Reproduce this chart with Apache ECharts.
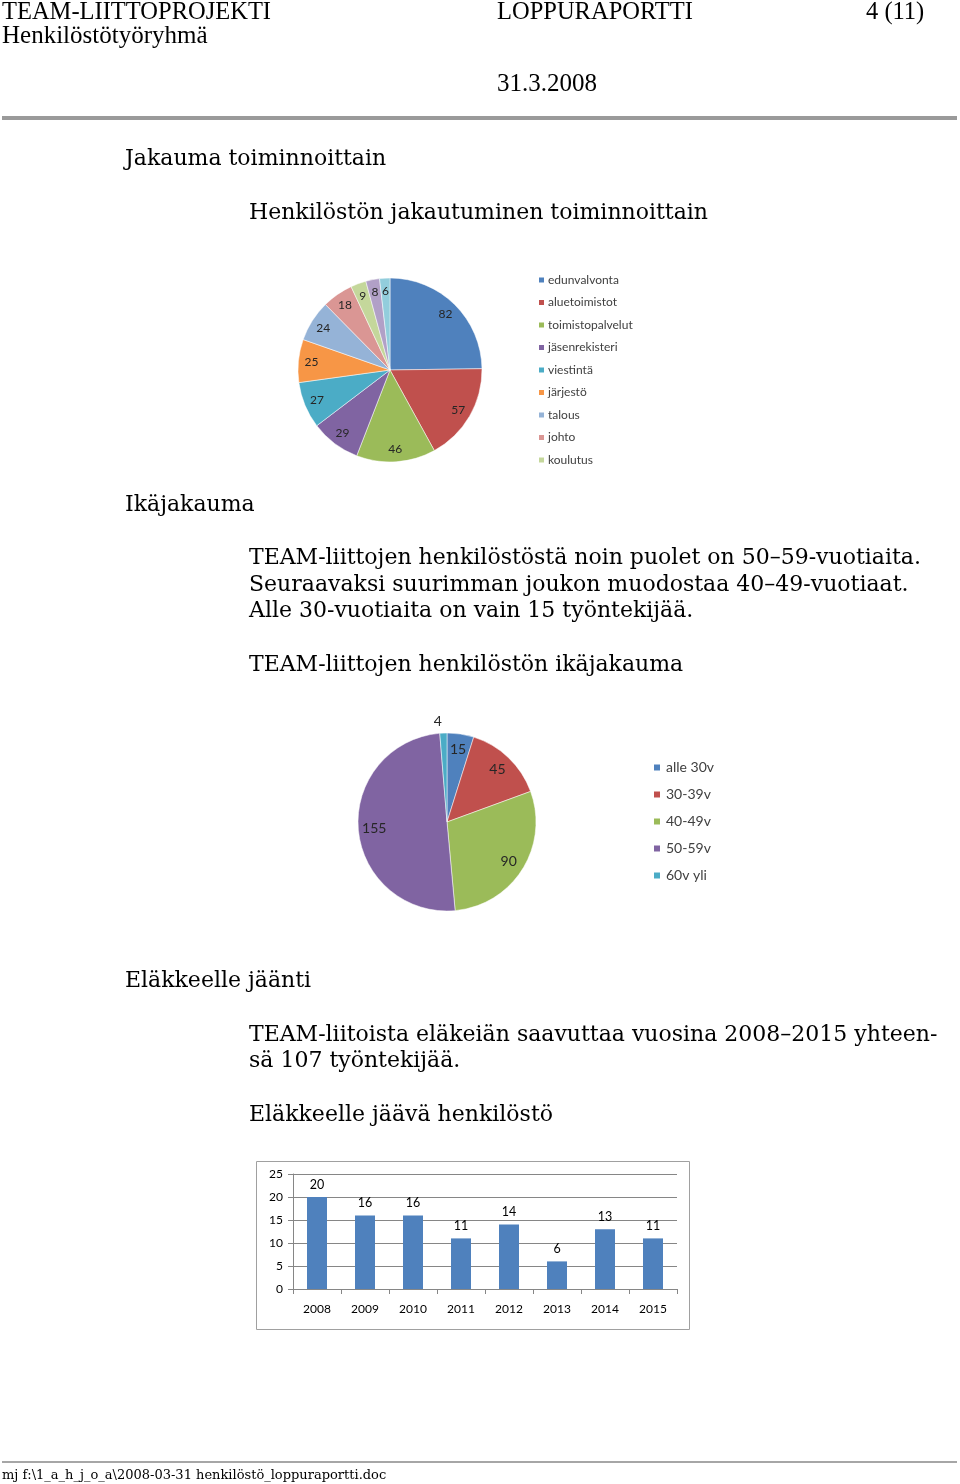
<!DOCTYPE html>
<html>
<head>
<meta charset="utf-8">
<script src="https://cdn.jsdelivr.net/npm/echarts@6/dist/echarts.min.js"></script>
<style>
  html, body { margin: 0; padding: 0; background: #fff; }
  #page { width: 960px; height: 1484px; }
</style>
</head>
<body>
<div id="page"></div>
<script>
// toiminnot (pie 1) - last two slices have no legend entry in the source
const unitNames = ["edunvalvonta", "aluetoimistot", "toimistopalvelut", "jäsenrekisteri", "viestintä", "järjestö", "talous", "johto", "koulutus", "muut 1", "muut 2"];
const unitValues = [82, 57, 46, 29, 27, 25, 24, 18, 9, 8, 6];
const unitLegend = unitNames.slice(0, 9);

// ikäjakauma (pie 2)
const ageNames = ["alle 30v", "30-39v", "40-49v", "50-59v", "60v yli"];
const ageValues = [15, 45, 90, 155, 4];

// eläkkeelle jäävät (bar)
const years = ["2008", "2009", "2010", "2011", "2012", "2013", "2014", "2015"];
const retiring = [20, 16, 16, 11, 14, 6, 13, 11];
const yTicks = [0, 5, 10, 15, 20, 25];

const palette = ["#4F81BD", "#C0504D", "#9BBB59", "#8064A2", "#4BACC6", "#F79646",
  "#95B3D7", "#DA9694", "#C4D79B", "#B1A0C7", "#92CDDC"];

const chartFont = "Lato";
const bodyFont = "DejaVu Serif";
const headFont = "Liberation Serif";

function txt(text, x, y, size, family) {
  return {
    type: "text", x: x, y: y, silent: true,
    style: { text: text, fontSize: size, fontFamily: family, fill: "#000", verticalAlign: "middle" }
  };
}

const pieData = (names, values) =>
  names.map((n, i) => ({ name: n, value: values[i], itemStyle: { color: palette[i] } }));

const myChart = echarts.init(document.getElementById("page"), null, { renderer: "canvas" });

const option = {
  animation: false,
  textStyle: { fontFamily: chartFont },
  legend: [
    {
      data: unitLegend,
      orient: "vertical",
      left: 537, top: 273, padding: 0,
      icon: "rect", itemWidth: 7, itemHeight: 7, itemGap: 8.5,
      textStyle: { fontSize: 12, color: "#404040", lineHeight: 14, padding: [0, 0, 0, -2] },
      selectedMode: false
    },
    {
      data: ageNames,
      orient: "vertical",
      left: 652, top: 759, padding: 0,
      icon: "rect", itemWidth: 8, itemHeight: 8, itemGap: 10,
      textStyle: { fontSize: 14, color: "#404040", lineHeight: 17 },
      selectedMode: false
    }
  ],
  grid: { left: 293, right: 283, top: 1174, bottom: 195 },
  xAxis: {
    type: "category",
    data: years,
    axisLine: { lineStyle: { color: "#868686" } },
    axisTick: { show: true, length: 5, lineStyle: { color: "#868686" } },
    axisLabel: { color: "#000", fontSize: 12, margin: 14 }
  },
  yAxis: {
    type: "value",
    min: 0, max: 25, interval: 5,
    axisLine: { show: true, lineStyle: { color: "#868686" } },
    axisTick: { show: true, inside: false, length: 5, lineStyle: { color: "#868686" } },
    axisLabel: { color: "#000", fontSize: 12, margin: 10,
      formatter: (v) => yTicks.includes(v) ? String(v) : "" },
    splitLine: { lineStyle: { color: "#868686" } }
  },
  series: [
    {
      type: "pie", name: "toiminnot",
      center: [390, 370], radius: [0, 92],
      startAngle: 90, clockwise: true, silent: true,
      label: { show: false }, labelLine: { show: false },
      itemStyle: { borderColor: "#fff", borderWidth: 0.5 },
      data: pieData(unitNames, unitValues)
    },
    {
      // label ring for pie 1
      type: "pie", name: "toiminnot-labels",
      center: [390, 370], radius: [60, 92],
      startAngle: 90, clockwise: true, silent: true,
      itemStyle: { color: "rgba(0,0,0,0)" },
      label: { show: true, position: "inside", formatter: "{c}", fontSize: 12, color: "#262626" },
      data: unitNames.map((n, i) => ({ name: n, value: unitValues[i] })),
      labelLine: { show: false }
    },
    {
      type: "pie", name: "ikä",
      center: [447, 822], radius: [0, 89],
      startAngle: 90, clockwise: true, silent: true,
      label: { show: false }, labelLine: { show: false },
      itemStyle: { borderColor: "#fff", borderWidth: 0.5 },
      data: pieData(ageNames, ageValues)
    },
    {
      type: "pie", name: "ikä-labels",
      center: [447, 822], radius: [51, 89],
      startAngle: 90, clockwise: true, silent: true,
      itemStyle: { color: "rgba(0,0,0,0)" },
      label: { show: true, position: "inside", formatter: "{c}", fontSize: 14, color: "#262626" },
      labelLine: { show: false, length: 12, length2: 0 },
      labelLayout: (p) => (ageValues[p.dataIndex] < 10 ? { align: "center" } : {}),
      data: ageNames.map((n, i) => ({
        name: n, value: ageValues[i],
        label: ageValues[i] < 10 ? { position: "outside" } : undefined
      }))
    },
    {
      type: "bar", name: "eläkkeelle",
      data: retiring,
      barWidth: 20,
      itemStyle: { color: "#4F81BD" },
      label: { show: true, position: "top", distance: 6, fontSize: 12.5, color: "#000" },
      silent: true
    }
  ],
  graphic: [
    txt("TEAM-LIITTOPROJEKTI", 2, 13, 24.5, headFont),
    txt("LOPPURAPORTTI", 497, 13, 24.5, headFont),
    txt("4 (11)", 866, 13, 24.5, headFont),
    txt("Henkilöstötyöryhmä", 2, 36, 25, headFont),
    txt("31.3.2008", 497, 84, 25, headFont),
    { type: "rect", silent: true, shape: { x: 2, y: 116, width: 955, height: 4 }, style: { fill: "#9a9a9a" } },

    txt("Jakauma toiminnoittain", 125, 159, 22, bodyFont),
    txt("Henkilöstön jakautuminen toiminnoittain", 249, 213, 22, bodyFont),
    txt("Ikäjakauma", 125, 505, 22, bodyFont),
    txt("TEAM-liittojen henkilöstöstä noin puolet on 50–59-vuotiaita.", 249, 558, 22, bodyFont),
    txt("Seuraavaksi suurimman joukon muodostaa 40–49-vuotiaat.", 249, 585, 22, bodyFont),
    txt("Alle 30-vuotiaita on vain 15 työntekijää.", 249, 611, 22, bodyFont),
    txt("TEAM-liittojen henkilöstön ikäjakauma", 249, 665, 22, bodyFont),
    txt("Eläkkeelle jäänti", 125, 981, 22, bodyFont),
    txt("TEAM-liitoista eläkeiän saavuttaa vuosina 2008–2015 yhteen-", 249, 1035, 22, bodyFont),
    txt("sä 107 työntekijää.", 249, 1061, 22, bodyFont),
    txt("Eläkkeelle jäävä henkilöstö", 249, 1115, 22, bodyFont),

    { type: "rect", silent: true, shape: { x: 256.5, y: 1161.5, width: 433, height: 168 },
      style: { fill: "none", stroke: "#a0a0a0", lineWidth: 1 } },

    { type: "rect", silent: true, shape: { x: 2, y: 1461, width: 955, height: 2 }, style: { fill: "#a6a6a6" } },
    txt("mj f:\\1_a_h_j_o_a\\2008-03-31 henkilöstö_loppuraportti.doc", 2, 1476, 13, bodyFont)
  ]
};

myChart.setOption(option);
</script>
</body>
</html>
